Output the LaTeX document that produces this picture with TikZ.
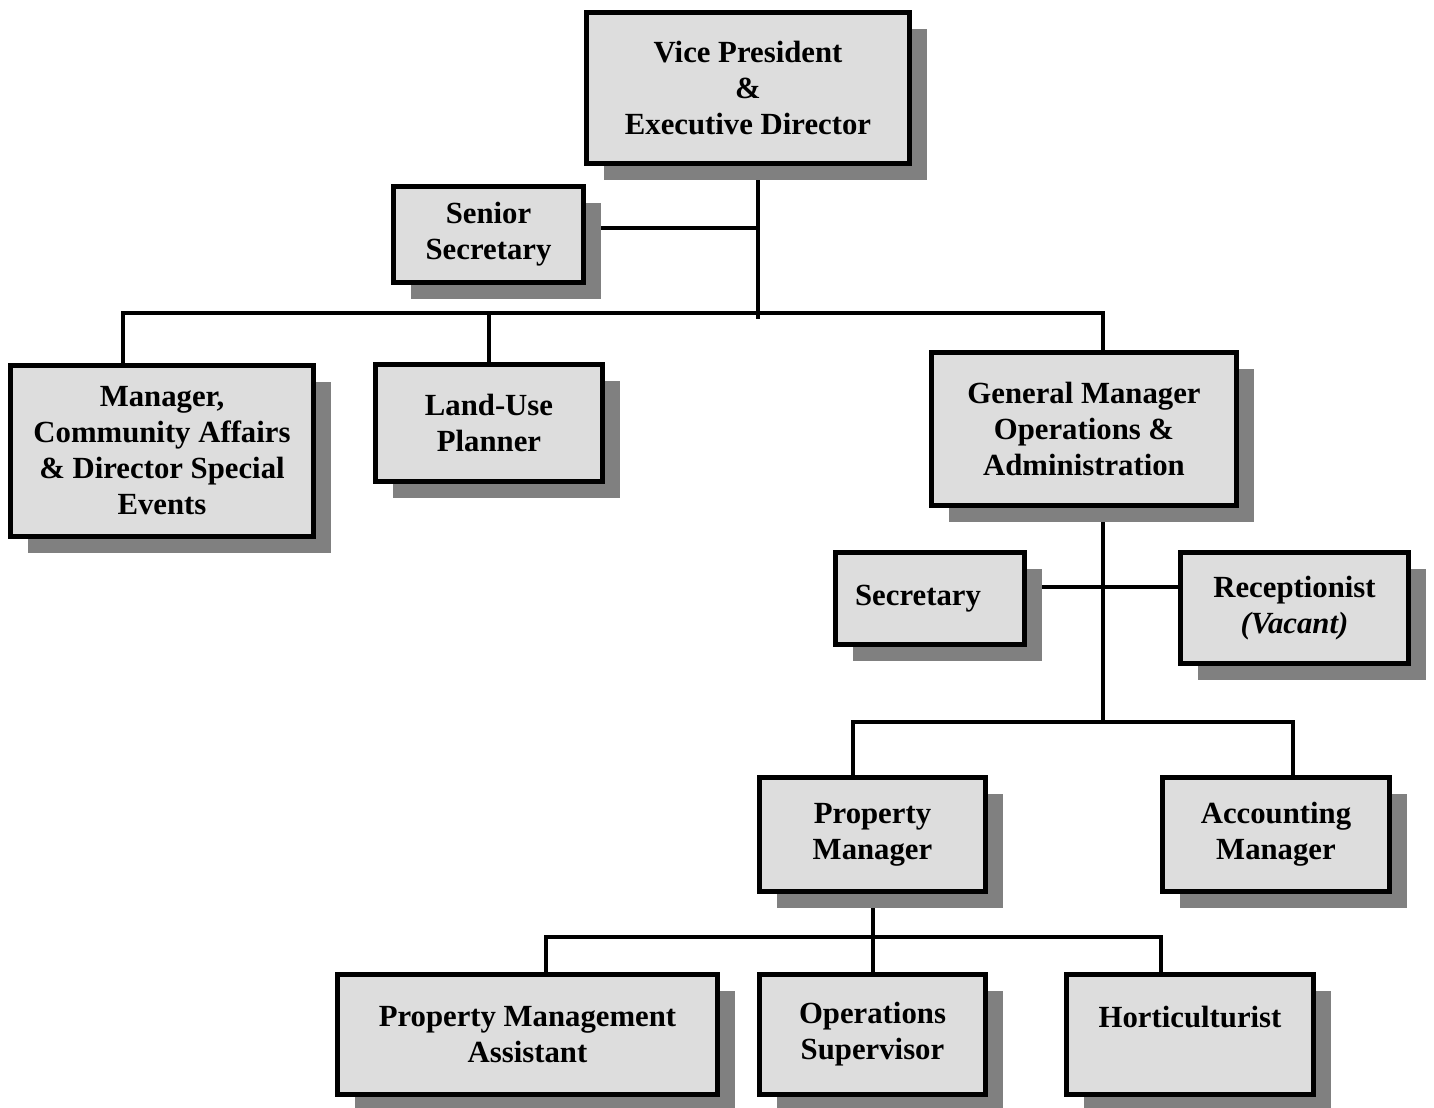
\documentclass[tikz,border=0pt]{standalone}
\usepackage{fontspec}
\setmainfont{Liberation Serif}
\usetikzlibrary{shadows, backgrounds}
\definecolor{boxgray}{HTML}{DDDDDD}
\definecolor{shadowgray}{HTML}{808080}
\tikzset{post/.style = {shape = rectangle, draw, line width = 0.1cm, fill = boxgray, align = center, inner sep = 0pt, font = \bfseries\fontsize{17.5}{20.5}\selectfont, drop shadow = {shadow xshift = 0.34cm, shadow yshift = -0.33cm, fill = shadowgray, opacity = 1}}}
\tikzset{edge/.style = {-, line width = 0.08cm, line cap = rect}}
\begin{document}
\begin{tikzpicture}
			\useasboundingbox (0, 0) rectangle (28.68, 22.16);

			\node[post, minimum width = 6.46cm, minimum height = 3.02cm] (vp) at (14.96, 20.40) {Vice President\\\&\\Executive Director};
			\node[post, minimum width = 3.80cm, minimum height = 1.92cm] (ssec) at (9.77, 17.47) {Senior\\Secretary};
			\node[post, minimum width = 6.06cm, minimum height = 3.42cm] (mgr) at (3.24, 13.14) {Manager,\\Community Affairs\\\& Director Special\\Events};
			\node[post, minimum width = 4.54cm, minimum height = 2.34cm] (lup) at (9.78, 13.70) {Land-Use\\Planner};
			\node[post, minimum width = 6.10cm, minimum height = 3.06cm] (gm) at (21.68, 13.58) {General Manager\\Operations \&\\Administration};
			\node[post, minimum width = 3.78cm, minimum height = 1.84cm] (sec) at (18.60, 10.19) {\raisebox{0.14cm}{Secretary}\hspace*{0.48cm}};
			\node[post, minimum width = 4.56cm, minimum height = 2.22cm] (rec) at (25.89, 10.00) {Receptionist\\\textit{(Vacant)}};
			\node[post, minimum width = 4.52cm, minimum height = 2.28cm] (pm) at (17.45, 5.47) {Property\\Manager};
			\node[post, minimum width = 4.54cm, minimum height = 2.28cm] (acc) at (25.52, 5.47) {Accounting\\Manager};
			\node[post, minimum width = 7.60cm, minimum height = 2.40cm] (pma) at (10.55, 1.47) {Property Management\\Assistant};
			\node[post, minimum width = 4.52cm, minimum height = 2.40cm] (ops) at (17.45, 1.47) {Operations\\Supervisor};
			\node[post, minimum width = 4.94cm, minimum height = 2.40cm] (hort) at (23.80, 1.47) {Horticulturist\\\mbox{}};

			\coordinate (hub) at (15.16, 15.82);
			\coordinate (busl) at (2.46, 15.90);
			\coordinate (busr) at (22.06, 15.90);
			\coordinate (gmhub) at (22.06, 7.72);
			\coordinate (opsl) at (17.06, 7.72);
			\coordinate (opsr) at (25.86, 7.72);
			\coordinate (pml) at (10.92, 3.42);
			\coordinate (pmr) at (23.22, 3.42);

			\begin{scope}[on background layer]
			\draw[edge] (vp.south -| hub) to (hub);
			\draw[edge] ([yshift = 0.13cm]ssec.east) to ([yshift = 0.13cm]ssec.east -| hub);
			\draw[edge] (busl) to (busr);
			\draw[edge] (busl) to (busl |- mgr.north);
			\draw[edge] (lup.north) to (lup.north |- busl);
			\draw[edge] (busr) to (busr |- gm.north);
			\draw[edge] (gm.south -| gmhub) to (gmhub);
			\draw[edge] ([yshift = 0.23cm]sec.east) to ([yshift = 0.23cm]sec.east -| rec.west);
			\draw[edge] (opsl) to (opsr);
			\draw[edge] (opsl) to (opsl |- pm.north);
			\draw[edge] (opsr) to (opsr |- acc.north);
			\draw[edge] (pm.south) to (pm.south |- pml);
			\draw[edge] (pml) to (pmr);
			\draw[edge] (pml) to (pml |- pma.north);
			\draw[edge] (ops.north) to (ops.north |- pml);
			\draw[edge] (pmr) to (pmr |- hort.north);
			\end{scope}
		\end{tikzpicture}
\end{document}
